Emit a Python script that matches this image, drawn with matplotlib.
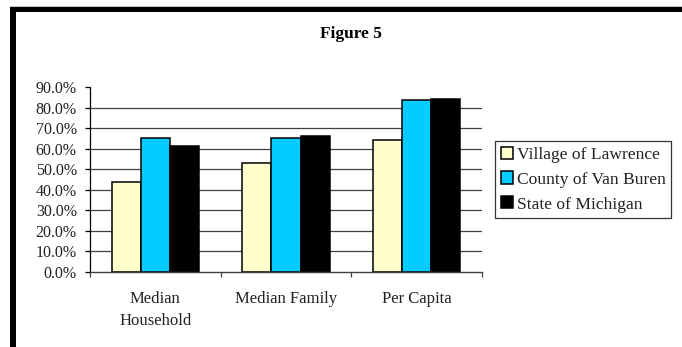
import matplotlib
matplotlib.use("Agg")
import matplotlib.pyplot as plt
from matplotlib.patches import Rectangle
from matplotlib.ticker import FuncFormatter
import numpy as np

categories = ["Median\nHousehold", "Median Family", "Per Capita"]
series_names = ["Village of Lawrence", "County of Van Buren", "State of Michigan"]
village = [43.8, 53.0, 64.3]
county = [65.4, 65.1, 83.8]
state = [61.3, 66.1, 84.1]
yticks = [0, 10, 20, 30, 40, 50, 60, 70, 80, 90]
colors = ["#FFFFCC", "#00CCFF", "#000000"]

W, H = 682, 347
plt.rcParams['font.family'] = ['Liberation Serif', 'DejaVu Serif']
fig = plt.figure(figsize=(W / 100, H / 100), dpi=100)

# outer frame (partial, as in the cropped reference)
fig.patches.append(Rectangle((10 / W, 1 - 7 / H), 1 - 10 / W, 1 / H, transform=fig.transFigure,
                             facecolor="#c8c8c8", edgecolor="none"))
fig.patches.append(Rectangle((10 / W, 1 - 12 / H), 1 - 10 / W, 5 / H, transform=fig.transFigure,
                             facecolor="black", edgecolor="none"))
fig.patches.append(Rectangle((10 / W, 0), 5.5 / W, 1 - 7 / H, transform=fig.transFigure,
                             facecolor="black", edgecolor="none"))

ax = fig.add_axes([90 / W, (H - 271.7) / H, (482 - 90) / W, (271.7 - 87.3) / H])

x = np.arange(len(categories)) + 0.5
bw = 1 / 4.5
for i, (vals, name) in enumerate(zip([village, county, state], series_names)):
    ax.bar(x + (i - 1) * bw, vals, width=bw, color=colors[i], edgecolor="black",
           linewidth=1.1, label=name, zorder=3)

for yv in yticks[1:-1]:
    ax.axhline(yv, color="#404040", linewidth=0.9, zorder=1)

ax.set_xlim(0, 3)
ax.set_ylim(0, 90)
ax.set_yticks(yticks)
ax.yaxis.set_major_formatter(FuncFormatter(lambda v, p: f"{v:.1f}%"))
ax.set_xticks([0, 1, 2, 3])
ax.set_xticklabels([])
ax.set_xticks(x, minor=True)
ax.set_xticklabels(categories, minor=True, fontsize=12, linespacing=1.45, color="#222222")
ax.tick_params(axis="x", which="minor", length=0, pad=14)
ax.tick_params(axis="x", which="major", length=3.5, width=0.9, color="#404040", direction="out")
ax.tick_params(axis="y", length=3.5, width=0.9, direction="out", labelsize=11.5, pad=6,
               labelcolor="#222222")
for s in ["top", "right"]:
    ax.spines[s].set_visible(False)
ax.spines["left"].set_linewidth(0.9)
ax.spines["bottom"].set_linewidth(1.0)
ax.spines["bottom"].set_color("#404040")
ax.spines["bottom"].set_zorder(4)

fig.text(351 / W, 1 - 34 / H, "Figure 5", ha="center", va="center", fontsize=12.5,
         fontweight="bold")

leg = fig.legend(loc="upper left", bbox_to_anchor=(495 / W, 1 - 141 / H), borderaxespad=0,
                 fontsize=12.6, frameon=True, fancybox=False, edgecolor="black",
                 handlelength=0.68, handleheight=0.68, handletextpad=0.25,
                 labelspacing=0.5, borderpad=0.32)
leg.get_frame().set_linewidth(0.9)
for t in leg.get_texts():
    t.set_color("#222222")

fig.savefig("out.png", dpi=100)
